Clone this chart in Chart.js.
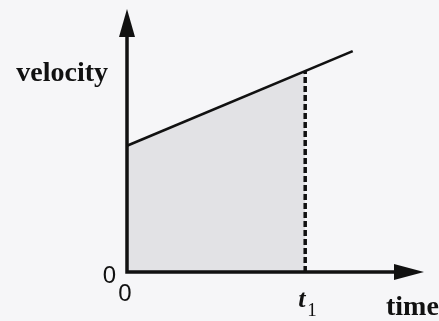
<!DOCTYPE html>
<html>
<head>
<meta charset="utf-8">
<script src="https://cdn.jsdelivr.net/npm/chart.js@4.4.1/dist/chart.umd.min.js"></script>
<style>
  html, body { margin: 0; padding: 0; background: #f6f6f8; }
  canvas { display: block; }
</style>
</head>
<body>
<canvas id="graph--velocity" width="439" height="321"></canvas>
<script>
// velocity line, read at its two ends
const lineTime = [0, 7.6]
const lineVelocity = [4.8, 8.4]
// the marked instant and the velocity there
const t1 = 6
const velocityAtT1 = 7.64
// axis labels
const yTitle = 'velocity'
const xTitle = 'time'
const yTickLabels = ['0']
const xTickLabels = ['0', 't1']

const canvas = document.querySelector('#graph--velocity')

// axes with arrow heads, drawn over the shaded area
const arrowAxes = {
  id: 'arrowAxes',
  afterDatasetsDraw(chart) {
    const ctx = chart.ctx
    const x = chart.scales.x
    const y = chart.scales.y
    const x0 = x.getPixelForValue(0)
    const y0 = y.getPixelForValue(0)
    const top = chart.chartArea.top
    const right = chart.chartArea.right
    ctx.save()
    ctx.strokeStyle = '#111'
    ctx.fillStyle = '#111'
    ctx.lineWidth = 3.5
    ctx.lineCap = 'butt'
    ctx.beginPath()
    ctx.moveTo(x0, y0 + 1.75)
    ctx.lineTo(x0, top + 24)
    ctx.moveTo(x0 - 1.75, y0)
    ctx.lineTo(right - 24, y0)
    ctx.stroke()
    // y arrow
    ctx.beginPath()
    ctx.moveTo(x0, top)
    ctx.lineTo(x0 + 8, top + 28)
    ctx.lineTo(x0 - 8, top + 28)
    ctx.closePath()
    ctx.fill()
    // x arrow
    ctx.beginPath()
    ctx.moveTo(right, y0)
    ctx.lineTo(right - 30, y0 - 8)
    ctx.lineTo(right - 30, y0 + 8)
    ctx.closePath()
    ctx.fill()
    ctx.restore()
  }
}

// titles and the few tick labels
const axisText = {
  id: 'axisText',
  afterDraw(chart) {
    const ctx = chart.ctx
    const x = chart.scales.x
    const y = chart.scales.y
    const x0 = x.getPixelForValue(0)
    const y0 = y.getPixelForValue(0)
    ctx.save()
    ctx.fillStyle = '#111'
    ctx.textBaseline = 'alphabetic'

    ctx.font = 'bold 28px "Liberation Serif", serif'
    ctx.textAlign = 'right'
    ctx.fillText(yTitle, x0 - 19, 81)
    ctx.textAlign = 'left'
    ctx.fillText(xTitle, 386, 315)

    ctx.font = '24px "Liberation Sans", sans-serif'
    ctx.textAlign = 'right'
    ctx.fillText(yTickLabels[0], x0 - 11, y0 + 11)
    ctx.textAlign = 'center'
    ctx.fillText(xTickLabels[0], x0 - 2, y0 + 29)

    // t with subscript 1
    const tx = x.getPixelForValue(t1)
    ctx.textAlign = 'left'
    ctx.font = 'bold italic 26px "Liberation Serif", serif'
    ctx.fillText(xTickLabels[1][0], tx - 7, y0 + 35)
    ctx.font = '19px "Liberation Serif", serif'
    ctx.fillText(xTickLabels[1].slice(1), tx + 2, y0 + 44)
    ctx.restore()
  }
}

const velocityChart = new Chart(canvas, {
  type: 'line',
  data: {
    datasets: [
      {
        // area under the line up to t1
        data: [
          { x: lineTime[0], y: lineVelocity[0] },
          { x: t1, y: velocityAtT1 }
        ],
        fill: 'origin',
        backgroundColor: '#e2e2e5',
        borderWidth: 0,
        pointRadius: 0,
        order: 3
      },
      {
        data: [
          { x: t1, y: 0 },
          { x: t1, y: velocityAtT1 }
        ],
        borderColor: '#111',
        borderWidth: 3.5,
        borderDash: [6, 3],
        pointRadius: 0,
        fill: false,
        order: 2
      },
      {
        data: lineTime.map((t, i) => ({ x: t, y: lineVelocity[i] })),
        borderColor: '#111',
        borderWidth: 2.6,
        pointRadius: 0,
        fill: false,
        order: 1
      }
    ]
  },
  options: {
    responsive: false,
    devicePixelRatio: 1,
    animation: false,
    clip: false,
    layout: { padding: { left: 127, right: 15, top: 9, bottom: 49 } },
    plugins: { legend: { display: false }, tooltip: { enabled: false } },
    scales: {
      x: { type: 'linear', min: 0, max: 10, display: false },
      y: { type: 'linear', min: 0, max: 10, display: false }
    }
  },
  plugins: [arrowAxes, axisText]
})
</script>
</body>
</html>
